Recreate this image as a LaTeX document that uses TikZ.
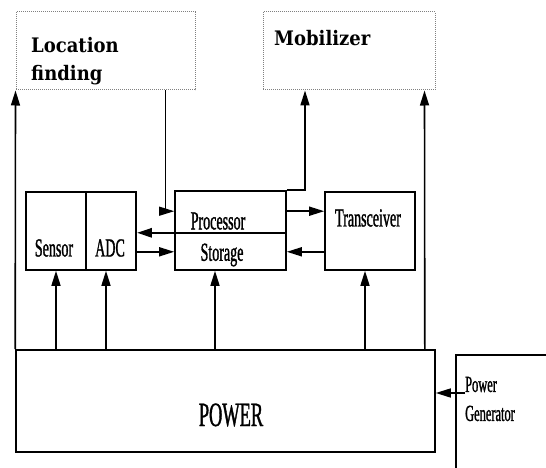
\documentclass[tikz,border=0pt]{standalone}
\usepackage{fontspec}
\setmainfont{Liberation Serif}
\newfontfamily\narrowfont[FakeStretch=0.54,FakeBold=1.1]{Liberation Serif}
\newfontfamily\slabfont[FakeStretch=0.9]{DejaVu Serif}
\usetikzlibrary{arrows.meta}

\begin{document}
\begin{tikzpicture}[x=1pt,y=-1pt]
\tikzstyle{every node}+=[inner sep=0pt]
\tikzstyle{blk}=[draw, line width=1.6pt]
\tikzstyle{dotblk}=[draw, gray, densely dotted, line width=1pt]
\tikzstyle{arr}=[-{Triangle[length=15pt,width=9pt]}, line width=1.6pt]
\tikzstyle{txt}=[font=\narrowfont\fontsize{26}{30}\selectfont]
\tikzstyle{gtxt}=[font=\narrowfont\fontsize{23}{29}\selectfont, align=left]
\tikzstyle{bigtxt}=[font=\slabfont\bfseries\fontsize{20}{28}\selectfont, align=left]
\clip (0,0) rectangle (546,468);
\node[dotblk, minimum width=179pt, minimum height=78pt] (loc) at (105.5,51) {};
\node[dotblk, minimum width=172pt, minimum height=78pt] (mob) at (349,51) {};
\node[blk, minimum width=60pt, minimum height=78pt] (sensor) at (56,231) {};
\node[blk, minimum width=50pt, minimum height=78pt] (adc) at (111,231) {};
\node[blk, minimum width=111pt, minimum height=79pt] (proc) at (230.5,230.5) {};
\node[blk, minimum width=90pt, minimum height=78pt] (trx) at (370,231) {};
\node[blk, minimum width=419pt, minimum height=102pt] (power) at (225.5,401) {};
\node[blk, minimum width=120pt, minimum height=140pt] (gen) at (516,425) {};
\node[bigtxt, anchor=west] (loctxt) at (31,61) {Location\\finding};
\node[bigtxt, anchor=west] (mobtxt) at (274,38) {Mobilizer};
\node[txt] (sensortxt) at (54,248) {Sensor};
\node[txt] (adctxt) at (110,248) {ADC};
\node[txt] (proctxt) at (218,221) {Processor};
\node[txt] (stortxt) at (222,255) {Storage};
\node[txt] (trxtxt) at (368,218) {Transceiver};
\node[txt, font=\narrowfont\fontsize{34}{38}\selectfont] (powtxt) at (231,415) {POWER};
\node[gtxt, anchor=west] (gentxt) at (465,399) {Power\\Generator};
\coordinate (adcin) at ([xshift=-5pt]adc.south);
\coordinate (procin) at ([xshift=-15.5pt]proc.south);
\coordinate (trxin) at ([xshift=-5pt]trx.south);
\coordinate (genout) at (465,393);
\draw[arr] (power.north west) -- (loc.south west);
\draw[arr, line width=1pt] ([xshift=59.5pt]loc.south) |- ([yshift=-21pt]proc.north west);
\draw[arr] (proc.north east) -| ([xshift=-44pt]mob.south);
\draw[arr] ([xshift=-11pt]power.north east) -- ([xshift=-11pt]mob.south east);
\draw[arr] (sensor.south |- power.north) -- (sensor.south);
\draw[arr] (adcin |- power.north) -- (adcin);
\draw[arr] (procin |- power.north) -- (procin);
\draw[arr] (trxin |- power.north) -- (trxin);
\draw[arr] ([yshift=-21pt]proc.north east) -- ([yshift=-20pt]trx.north west);
\draw[arr] ([yshift=19pt]trx.south west) -- ([yshift=19pt]proc.south east);
\draw[arr, line width=2.6pt] ([yshift=38pt]proc.south east) -- ([yshift=38pt]adc.south east);
\draw[arr] ([yshift=19pt]adc.south east) -- ([yshift=19pt]proc.south west);
\draw[arr] (genout) -- (genout -| power.east);
\end{tikzpicture}
\end{document}
